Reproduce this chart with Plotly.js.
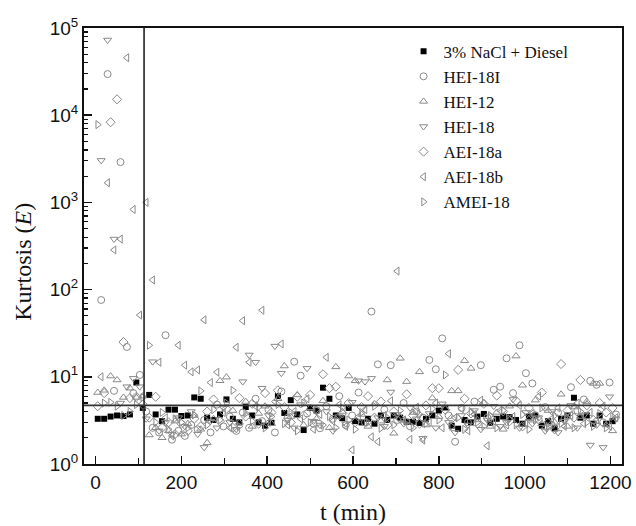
<!DOCTYPE html>
<html>
<head>
<meta charset="utf-8">
<script src="https://cdn.plot.ly/plotly-3.0.1.min.js"></script>
<style>html,body{margin:0;padding:0;background:#fff;}#chart{width:636px;height:526px;}</style>
</head>
<body>
<div id="chart"></div>
<script>
// Sampling times (min)
var tA = [5,20,35,50,65,80,95,110,125,140,155,170,185,200,215,230,245,260,275,290,305,320,335,350,365,380,395,410,425,440,455,470,485,500,515,530,545,560,575,590,605,620,635,650,665,680,695,710,725,740,755,770,785,800,815,830,845,860,875,890,905,920,935,950,965,980,995,1010,1025,1040,1055,1070,1085,1100,1115,1130,1145,1160,1175,1190,1205];
var tB = [13,28,43,58,73,88,103,118,133,148,163,178,193,208,223,238,253,268,283,298,313,328,343,358,373,388,403,418,433,448,463,478,493,508,523,538,553,568,583,598,613,628,643,658,673,688,703,718,733,748,763,778,793,808,823,838,853,868,883,898,913,928,943,958,973,988,1003,1018,1033,1048,1063,1078,1093,1108,1123,1138,1153,1168,1183,1198,1213];

var naclDiesel = [3.3,3.3,3.5,3.6,3.55,3.7,8.6,4.4,6.2,3.7,3.1,4.2,4.2,3.55,3.6,5.8,5.6,3.4,3.2,3.7,5.5,3.3,3.0,4.5,3.6,3.0,2.75,2.97,6.0,3.85,5.4,3.7,2.45,4.4,4.1,7.5,5.6,3.6,3.35,4.4,3.1,3.0,3.3,2.9,3.6,3.2,3.6,3.4,3.05,3.05,2.95,3.3,3.6,4.1,4.4,2.75,2.54,3.2,3.0,3.5,3.75,2.97,3.3,3.5,3.45,3.2,2.9,3.5,3.6,2.75,3.1,2.56,3.3,3.6,5.75,3.4,3.6,2.9,3.6,2.9,3.1];
var hei18I = [76,29600,6.9,2900,22,6.5,10.5,4.0,2.6,2.3,30,1.9,2.4,2.1,2.8,2.5,3.2,2.3,4.8,2.7,3.5,2.4,3.9,2.6,5.6,3.1,4.2,2.3,6.8,3.4,14.9,10.3,3.8,2.9,2.57,4.6,3.3,6.0,2.8,3.6,6.6,3.0,56,13.9,4.2,13.6,3.2,5.0,2.7,4.0,3.4,15.6,12.2,27.6,3.6,1.8,4.4,3.0,5.2,13.6,3.4,7.1,7.7,16.3,6.5,23,11,8.4,3.2,4.5,2.8,3.9,3.3,7.6,4.1,5.5,9.0,8.1,3.0,8.6,3.7];
var hei12 = [6.6,7.0,10.2,9.2,5.8,7.4,5.8,6.0,2.15,2.6,2.0,2.4,3.1,2.2,2.9,3.6,2.5,1.75,3.3,9.0,9.9,4.1,3.0,5.2,2.7,3.8,4.6,2.9,5.6,13.3,3.5,6.2,2.8,4.4,3.3,5.3,2.6,13,4.0,10.2,9.0,3.7,2.7,4.9,3.1,9.2,2.25,16.3,8.8,3.9,11.4,2.8,5.7,3.5,4.3,6.9,6.9,15.3,12.5,3.2,5.0,2.7,3.9,2.5,4.6,17.3,8.0,3.3,5.4,2.9,4.1,3.0,6.3,2.7,4.5,3.5,5.2,8.4,8.4,2.8,2.4];
var hei18 = [3030,72800,380,5.0,7.7,9.6,7.7,3.3,14.9,2.4,3.0,2.2,3.4,2.7,4.0,2.2,1.55,3.1,2.6,4.4,3.0,2.5,8.8,17.8,14.7,7.4,3.6,22.5,11,3.2,2.6,4.8,12.5,3.1,2.8,4.0,2.4,3.5,2.9,5.1,9.0,8.8,9.6,3.4,2.7,6.7,3.7,2.9,4.4,3.3,1.97,3.8,2.6,4.9,3.0,2.3,3.6,2.8,4.1,2.5,3.2,4.6,2.7,3.0,5.5,2.6,3.9,2.9,3.4,2.4,4.0,2.3,3.1,4.7,2.6,3.6,1.65,2.8,1.55,5.9,3.3];
var aei18a = [4.6,6.5,8300,15200,25,5.7,5.9,4.8,3.4,5.9,2.6,3.0,2.2,2.9,2.4,3.3,2.7,4.0,5.5,3.1,4.3,2.6,5.7,3.5,4.9,2.9,6.5,3.9,7.0,4.5,3.0,5.9,3.6,6.2,4.1,10.7,7.4,7.7,3.8,5.0,3.0,4.5,6.0,3.4,5.2,2.8,4.0,3.3,6.3,3.6,2.9,4.7,7.4,7.4,4.2,3.3,12,5.6,3.8,2.9,4.9,3.4,6.1,4.0,3.1,5.3,2.7,4.4,3.6,6.6,3.0,2.5,14,4.1,3.4,9.2,4.7,3.2,5.0,3.9,4.4];
var aei18b = [10,1680,285,380,45600,830,51,1000,129,14.7,3.4,2.1,23,13.6,11.4,12,45,8.6,11.3,3.9,2.6,21.8,44,14.7,4.6,58,3.0,5.2,23.8,2.8,4.0,3.3,5.6,2.5,3.7,16.7,3.1,4.8,2.7,1.45,3.5,4.2,2.05,1.8,3.6,5.3,163,3.2,1.92,4.5,1.88,3.0,5.0,2.6,18.4,3.4,4.3,2.4,3.7,5.4,1.62,3.1,4.1,2.8,3.5,4.7,2.9,3.8,6.0,2.6,3.3,4.4,2.7,3.6,5.0,2.9,3.9,3.2,4.6,2.7,3.4];
var amei18 = [7800,5.0,5.1,4.6,3.6,4.0,4.8,5.8,23,3.0,3.9,2.5,3.3,3.0,2.6,3.65,6.9,2.8,4.2,3.2,5.0,7.0,2.7,3.8,3.1,4.5,2.6,3.5,4.8,2.9,3.9,2.4,5.0,3.0,4.2,2.8,3.5,2.6,4.4,3.2,2.5,3.9,3.0,4.6,2.57,3.4,2.8,4.1,3.1,2.6,3.7,2.9,4.3,3.2,10.5,2.7,3.4,2.5,4.0,3.0,2.7,3.6,2.6,4.1,3.3,2.8,3.7,2.5,3.2,4.4,2.7,3.6,2.9,3.4,2.6,4.0,3.0,2.7,3.8,2.6,3.5];

var seriesNames = ["3% NaCl + Diesel","HEI-18I","HEI-12","HEI-18","AEI-18a","AEI-18b","AMEI-18"];
var thresholdT = 113;
var thresholdE = 4.7;
var xRange = [-27, 1227];
var yDecades = [1, 10, 100, 1000, 10000, 100000];
var yTickText = ["10<sup>0</sup>","10<sup>1</sup>","10<sup>2</sup>","10<sup>3</sup>","10<sup>4</sup>","10<sup>5</sup>"];

var gray = "#8a8a8a";
function mk(sym, size, color, lw){ return {symbol: sym, size: size, color: color, line: {color: color, width: lw}}; }

var traces = [
  {x: tA, y: naclDiesel, name: seriesNames[0], mode: "markers", type: "scatter", marker: mk("square", 6, "#000", 0)},
  {x: tB, y: hei18I, name: seriesNames[1], mode: "markers", type: "scatter", marker: mk("circle-open", 7, gray, 1)},
  {x: tA, y: hei12, name: seriesNames[2], mode: "markers", type: "scatter", marker: mk("triangle-up-open", 7, gray, 1)},
  {x: tB, y: hei18, name: seriesNames[3], mode: "markers", type: "scatter", marker: mk("triangle-down-open", 7, gray, 1)},
  {x: tA, y: aei18a, name: seriesNames[4], mode: "markers", type: "scatter", marker: mk("diamond-open", 7, gray, 1)},
  {x: tB, y: aei18b, name: seriesNames[5], mode: "markers", type: "scatter", marker: mk("triangle-left-open", 7, gray, 1)},
  {x: tA, y: amei18, name: seriesNames[6], mode: "markers", type: "scatter", marker: mk("triangle-right-open", 7, gray, 1)},
  {x: [thresholdT, thresholdT], y: [yDecades[0], yDecades[yDecades.length-1]], mode: "lines", type: "scatter", showlegend: false, hoverinfo: "skip", line: {color: "#222", width: 1.6}},
  {x: xRange, y: [thresholdE, thresholdE], mode: "lines", type: "scatter", showlegend: false, hoverinfo: "skip", line: {color: "#333", width: 1.6}}
];

var minorY = [];
for (var d = 0; d < 5; d++) { for (var m = 2; m <= 9; m++) { minorY.push(m * Math.pow(10, d)); } }

var layout = {
  width: 636, height: 526,
  margin: {l: 84, r: 14, t: 28, b: 62},
  paper_bgcolor: "#fff", plot_bgcolor: "#fff",
  showlegend: true,
  legend: {x: 0.594, y: 0.987, xanchor: "left", yanchor: "top", bgcolor: "rgba(0,0,0,0)",
           font: {family: "Liberation Serif, Times New Roman, serif", size: 17, color: "#111"},
           tracegroupgap: 0, itemwidth: 30},
  xaxis: {
    range: xRange, type: "linear", tickmode: "linear", tick0: 0, dtick: 200,
    ticks: "inside", ticklen: 8, tickwidth: 1.5, tickcolor: "#111",
    showline: true, linecolor: "#111", linewidth: 2, mirror: true,
    showgrid: false, zeroline: false,
    tickfont: {family: "Liberation Sans, Arial, sans-serif", size: 19, color: "#111"},
    minor: {ticks: "inside", dtick: 100, tick0: 0, ticklen: 6, tickwidth: 1.2, tickcolor: "#111", showgrid: false}
  },
  yaxis: {
    type: "log", range: [0, 5], tickmode: "array", tickvals: yDecades, ticktext: yTickText,
    ticks: "inside", ticklen: 8, tickwidth: 1.5, tickcolor: "#111",
    showline: true, linecolor: "#111", linewidth: 2, mirror: true,
    showgrid: false, zeroline: false,
    tickfont: {family: "Liberation Sans, Arial, sans-serif", size: 19, color: "#111"},
    minor: {tickmode: "array", tickvals: minorY, ticks: "inside", ticklen: 4, tickwidth: 1.2, tickcolor: "#111", showgrid: false}
  },
  annotations: [
    {text: "t (min)", xref: "paper", yref: "paper", x: 0.5, y: -0.11, xanchor: "center", yanchor: "middle", showarrow: false,
     font: {family: "Liberation Serif, Times New Roman, serif", size: 24, color: "#111"}},
    {text: "Kurtosis (<i>E</i>)", xref: "paper", yref: "paper", x: -0.114, y: 0.463, xanchor: "center", yanchor: "middle", textangle: -90, showarrow: false,
     font: {family: "Liberation Serif, Times New Roman, serif", size: 24, color: "#111"}}
  ]
};

Plotly.newPlot("chart", traces, layout, {displayModeBar: false, staticPlot: true});
</script>
</body>
</html>
